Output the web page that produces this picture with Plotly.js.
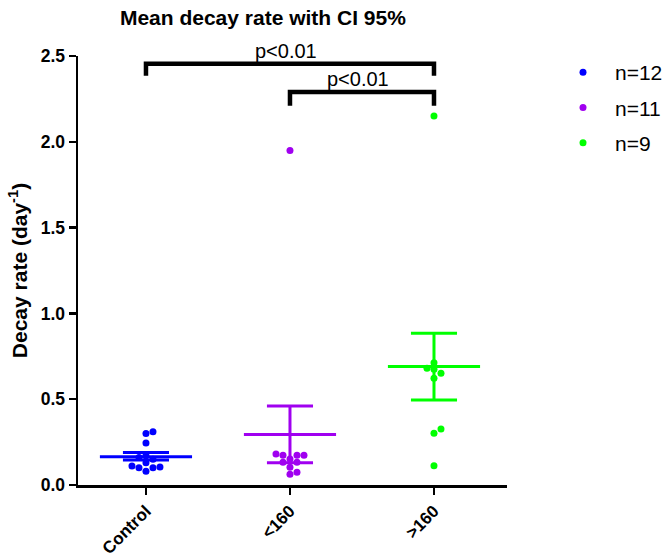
<!DOCTYPE html>
<html>
<head>
<meta charset="utf-8">
<script src="https://cdn.plot.ly/plotly-3.0.1.min.js"></script>
<style>html,body{margin:0;padding:0;background:#fff;}#chart{width:666px;height:560px;}</style>
</head>
<body>
<div id="chart"></div>
<script>
// ---- data ----
var categories = ["Control", "<160", ">160"];
var legendNames = ["n=12", "n=11", "n=9"];
var controlValues = [0.31, 0.30, 0.245, 0.17, 0.16, 0.15, 0.13, 0.11, 0.105, 0.10, 0.10, 0.08];
var below160Values = [1.95, 0.18, 0.173, 0.173, 0.173, 0.152, 0.132, 0.132, 0.103, 0.074, 0.062];
var above160Values = [2.15, 0.713, 0.68, 0.674, 0.651, 0.622, 0.326, 0.301, 0.112];
var meanValues = [0.165, 0.295, 0.69];
var ciLower = [0.145, 0.13, 0.495];
var ciUpper = [0.19, 0.46, 0.885];
var yTicks = [0, 0.5, 1.0, 1.5, 2.0, 2.5];
var pLabels = ["p<0.01", "p<0.01"];

var colors = ["#0000FF", "#A000F0", "#00FF00"];
var groups = [controlValues, below160Values, above160Values];

// plot geometry (px per unit) used for a simple beeswarm layout
var pxPerX = 144, pxPerY = 171.6, dotD = 7;
function beeswarm(vals) {
  var idx = vals.map(function (v, i) { return i; }).sort(function (a, b) { return vals[a] - vals[b]; });
  var placed = [], offs = new Array(vals.length);
  idx.forEach(function (i) {
    var yp = vals[i] * pxPerY;
    for (var k = 0; k < 40; k++) {
      var cand = (k === 0) ? 0 : ((k % 2 ? 1 : -1) * Math.ceil(k / 2) * dotD * 0.5);
      var ok = placed.every(function (p) {
        var dx = p.x - cand, dy = p.y - yp;
        return dx * dx + dy * dy >= dotD * dotD * 0.8;
      });
      if (ok) { placed.push({x: cand, y: yp}); offs[i] = cand / pxPerX; break; }
    }
  });
  return offs;
}

var traces = [];
groups.forEach(function (vals, g) {
  var offs = beeswarm(vals);
  traces.push({
    type: "scatter", mode: "markers",
    x: vals.map(function (v, i) { return g + offs[i]; }),
    y: vals,
    name: legendNames[g],
    legendgroup: "g" + g,
    marker: {color: colors[g], size: 7},
    cliponaxis: false,
    hoverinfo: "y"
  });
});
// mean and CI lines
var meanHalf = 0.32, capHalf = 0.16;
groups.forEach(function (vals, g) {
  traces.push({
    type: "scatter", mode: "lines", showlegend: false, hoverinfo: "skip",
    x: [g - meanHalf, g + meanHalf, null, g - capHalf, g + capHalf, null, g - capHalf, g + capHalf, null, g, g],
    y: [meanValues[g], meanValues[g], null, ciUpper[g], ciUpper[g], null, ciLower[g], ciLower[g], null, ciLower[g], ciUpper[g]],
    line: {color: colors[g], width: 3}
  });
});
// significance brackets
var brackets = [
  {from: 0, to: 2, top: 2.455, leg: 2.385, label: pLabels[0]},
  {from: 1, to: 2, top: 2.29, leg: 2.21, label: pLabels[1]}
];
var annotations = [];
brackets.forEach(function (b) {
  traces.push({
    type: "scatter", mode: "lines", showlegend: false, hoverinfo: "skip",
    x: [b.from, b.from, b.to, b.to],
    y: [b.leg, b.top, b.top, b.leg],
    line: {color: "#000", width: 4.5}, cliponaxis: false
  });
  annotations.push({
    x: (b.from + b.to) / 2 - 0.03, y: b.top, xref: "x", yref: "y",
    text: b.label, showarrow: false, yanchor: "bottom", yshift: 0,
    font: {family: "Liberation Sans, Arial, sans-serif", size: 20, color: "#000"}
  });
});

var layout = {
  width: 666, height: 560,
  margin: {l: 78, r: 159, t: 56, b: 75},
  paper_bgcolor: "#fff", plot_bgcolor: "#fff",
  font: {family: "Liberation Sans, Arial, sans-serif", color: "#000"},
  title: {
    text: "<b>Mean decay rate with CI 95%</b>",
    x: 0.431, xref: "paper", xanchor: "center", y: 0.968, yref: "container", yanchor: "middle",
    font: {size: 21, color: "#000"}
  },
  xaxis: {
    range: [-0.472, 2.507], showgrid: false, zeroline: false,
    tickvals: [0, 1, 2], ticktext: categories.map(function (c) { return "<b>" + c.replace("<", "&lt;").replace(">", "&gt;") + "</b>"; }),
    tickangle: -45, ticks: "outside", ticklen: 7, tickwidth: 2.5, tickcolor: "#000",
    showline: true, linecolor: "#000", linewidth: 2.5,
    tickfont: {size: 17, color: "#000"}
  },
  yaxis: {
    range: [0, 2.5], showgrid: false, zeroline: false,
    tickvals: yTicks, ticktext: yTicks.map(function (t) { return "<b>" + t.toFixed(1) + "</b>"; }),
    ticks: "outside", ticklen: 7, tickwidth: 2.5, tickcolor: "#000",
    showline: true, linecolor: "#000", linewidth: 2.5,
    tickfont: {size: 17.5, color: "#000"},
    title: {text: "<b>Decay rate (day<sup>-1</sup>)</b>", font: {size: 21, color: "#000"}, standoff: 8}
  },
  legend: {
    xref: "container", yref: "container",
    x: 551 / 666, xanchor: "left", y: 1 - 52 / 560, yanchor: "top",
    font: {size: 21, color: "#000"}, tracegroupgap: 5, itemwidth: 54,
    traceorder: "grouped", itemsizing: "trace", bgcolor: "rgba(0,0,0,0)"
  },
  annotations: annotations,
  showlegend: true
};

Plotly.newPlot("chart", traces, layout, {displayModeBar: false, staticPlot: true});
</script>
</body>
</html>
